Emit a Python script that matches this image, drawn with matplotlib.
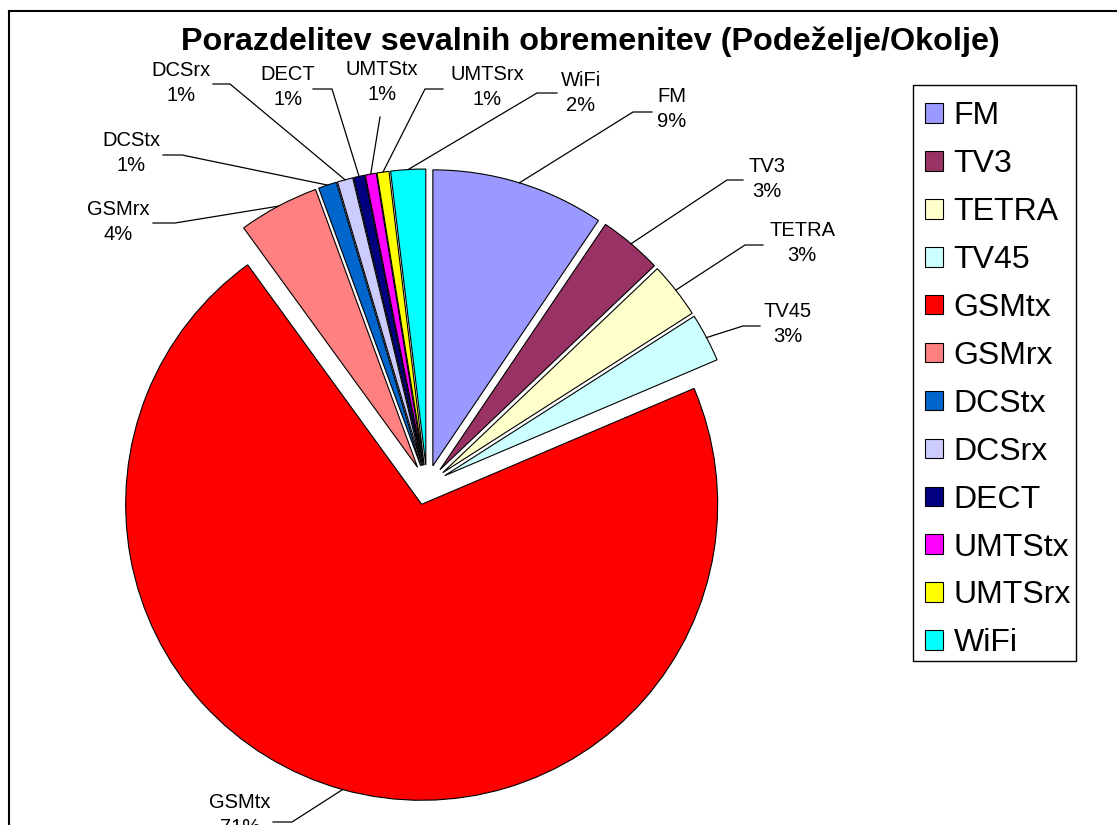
import math
import matplotlib
matplotlib.use("Agg")
import matplotlib.pyplot as plt
from matplotlib.patches import Patch, Rectangle

plt.rcParams['font.family'] = ['Liberation Sans', 'DejaVu Sans']

W, H = 1117, 825

# shares of the exposure per source (percent)
names = ['FM', 'TV3', 'TETRA', 'TV45', 'GSMtx', 'GSMrx',
         'DCStx', 'DCSrx', 'DECT', 'UMTStx', 'UMTSrx', 'WiFi']
shares = [9.45, 3.45, 3.05, 2.65, 71.4, 4.4,
          1.0, 0.85, 0.6, 0.6, 0.65, 1.9]
colors = ['#9999FF', '#993366', '#FFFFCC', '#CCFFFF', '#FF0000', '#FF8080',
          '#0066CC', '#CCCCFF', '#000080', '#FF00FF', '#FFFF00', '#00FFFF']

# label layout in pixels from the top left corner
label_pos = [(672, 109), (767, 179), (802, 243), (788, 324), (240, 815), (118, 222),
             (131, 153), (181, 83), (288, 87), (382, 82), (487, 87), (581, 93)]
leader_end = [(652, 112), (743, 180), (763, 245), (760, 326), (273, 822), (153, 223),
              (163, 155), (213, 84), (313, 89), (380, 117), (443, 89), (557, 93)]
elbow_dx = [-19, -16, -18, -17, 19, 22, 19, 17, 19, 0, -18, -20]

fig = plt.figure(figsize=(W / 100, H / 100), dpi=100)
ax = fig.add_axes([0, 0, 1, 1])

wedges, _ = ax.pie(shares, colors=colors, startangle=90, counterclock=False,
                   center=(427, H - 485), radius=296, explode=[20] * len(shares),
                   wedgeprops=dict(edgecolor='black', linewidth=0.8))
ax.set_xlim(0, W)
ax.set_ylim(0, H)
ax.set_aspect('auto')
ax.axis('off')

total = sum(shares)
for w, name, v, (lx, ly), (ex, ey), dx in zip(wedges, names, shares, label_pos, leader_end, elbow_dx):
    th = math.radians((w.theta1 + w.theta2) / 2)
    sx = w.center[0] + w.r * math.cos(th)
    sy = w.center[1] + w.r * math.sin(th)
    ax.plot([sx, ex + dx, ex], [sy, H - ey, H - ey], color='black', lw=0.9)
    ax.text(lx, H - ly, f"{name}\n{v / total * 100:.0f}%", ha='center', va='center',
            fontsize=14.5, linespacing=1.45)

ax.text(590, H - 42, 'Porazdelitev sevalnih obremenitev (Podeželje/Okolje)',
        ha='center', va='center', fontsize=23.3, fontweight='bold')

# chart area border (only top and left visible)
ax.plot([9, 9], [H - 11, -20], color='black', lw=1.5, clip_on=False)
ax.plot([9, W + 20], [H - 11, H - 11], color='black', lw=1.5, clip_on=False)

# legend box drawn separately, entries placed inside it
ax.add_patch(Rectangle((913, H - 661), 163, 576, facecolor='white', edgecolor='black',
                       linewidth=1, zorder=3))
handles = [Patch(facecolor=c, edgecolor='black', linewidth=0.8) for c in colors]
leg = fig.legend(handles, names, loc='upper left', bbox_to_anchor=(925 / W, 1 - 101.5 / H),
                 frameon=False, fontsize=23, handlelength=0.56, handleheight=0.56,
                 handletextpad=0.33, labelspacing=0.56, borderpad=0, borderaxespad=0)

fig.savefig('out.png', dpi=100)
